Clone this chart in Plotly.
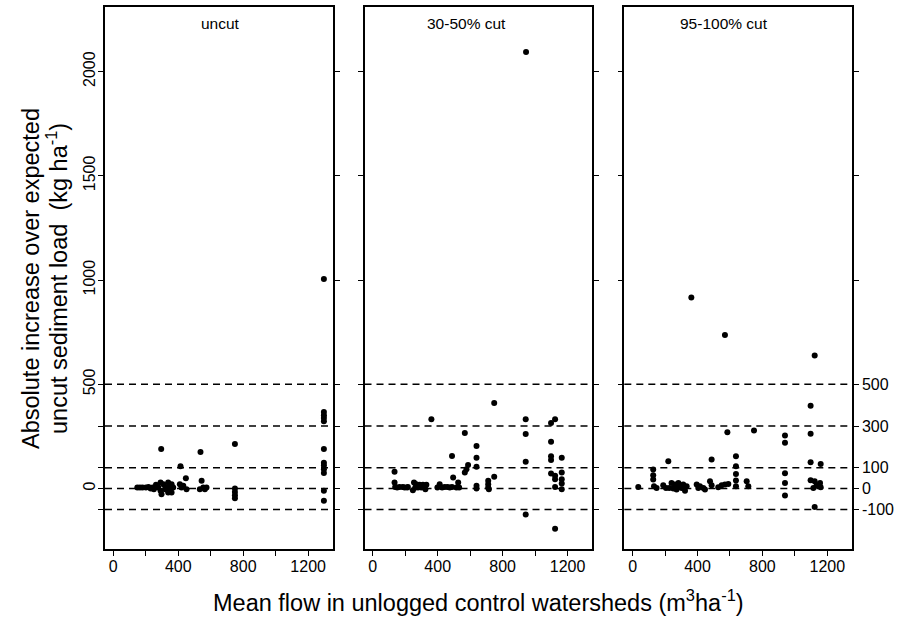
import plotly.graph_objects as go
from plotly.subplots import make_subplots

# --- dados (fluxo médio x aumento absoluto) ---
painel_titulos = ["uncut", "30-50% cut", "95-100% cut"]

uncut_x = [148, 164, 180, 201, 217, 230, 242, 250, 263, 277, 291, 291, 297, 308, 318, 324,
           338, 338, 349, 359, 359, 369, 295, 414, 410, 420, 431, 447, 451, 537, 533, 544,
           554, 564, 574, 749, 749, 749, 749, 749, 1297, 1297, 1297, 1297, 1297, 1297,
           1297, 1297, 1297, 1297, 1297, 1297]
uncut_y = [5, 5, 5, 5, 8, 0, 5, -3, 18, 5, 29, -11, -27, 21, -3, 5,
           29, -19, 5, 21, -19, 5, 190, 107, 21, 5, 13, 49, -3, 175, -3, 37,
           5, -3, 5, 214, 0, -16, -32, -46, 367, 352, 338, 323, 190, 124,
           110, 93, 75, -11, -59, 1005]

cut30_x = [134, 134, 138, 150, 165, 185, 196, 212, 216, 247, 254, 262, 268, 278, 289, 299,
           309, 324, 330, 361, 398, 412, 427, 443, 460, 474, 488, 495, 488, 515, 526, 532,
           567, 567, 577, 587, 639, 639, 639, 639, 639, 711, 711, 711, 715, 748, 748,
           942, 942, 942, 942, 944, 1098, 1123, 1098, 1098, 1098, 1164, 1098, 1123, 1123,
           1164, 1164, 1164, 1164, 1123, 1123]
cut30_y = [81, 29, 8, 5, 8, 8, 5, 5, 8, -8, 29, 5, 21, 5, 18, 5,
           18, -3, 18, 333, 5, 21, 5, 8, 8, 5, 8, 53, 156, 5, 29, 5,
           266, 77, 93, 113, 204, 148, 104, 13, 0, 37, 21, 5, -3, 56, 410,
           333, 262, 129, -124, 2094, 314, 333, 225, 155, 137, 148, 72, 61, 45,
           77, 45, 24, -3, 8, -193]

cut95_x = [35, 127, 127, 127, 132, 148, 189, 206, 220, 226, 240, 251, 261, 271, 282, 292,
           302, 312, 323, 333, 362, 395, 405, 415, 436, 446, 477, 487, 487, 528, 549, 569,
           590, 569, 584, 637, 637, 637, 637, 637, 703, 713, 748, 939, 939, 939, 939, 939,
           1097, 1097, 1097, 1097, 1122, 1122, 1122, 1134, 1155, 1159, 1114, 1159]
cut95_y = [8, 91, 64, 43, 11, 3, 16, 3, 131, 3, 27, 0, 19, -5, 27, 11,
           3, 19, -10, 11, 916, 19, 3, 11, 3, -5, 35, 139, 16, 6, 16, 19,
           22, 737, 270, 155, 107, 70, 38, 11, 35, 11, 279, 255, 220, 73, 27, -33,
           397, 263, 126, 40, 638, -88, 35, 16, 27, 6, 3, 118]

linhas_ref = [-100, 0, 100, 300, 500]
y_ticks = [-100, 0, 100, 300, 500, 1000, 1500, 2000]
x_ticks = [0, 200, 400, 600, 800, 1000, 1200]
x_labels = ["0", "", "400", "", "800", "", "1200"]

FONTE = "Liberation Sans, Arial, sans-serif"
dados = [(uncut_x, uncut_y), (cut30_x, cut30_y), (cut95_x, cut95_y)]

fig = make_subplots(rows=1, cols=3, shared_yaxes=False)

for i, (xs, ys) in enumerate(dados, start=1):
    fig.add_trace(go.Scatter(x=xs, y=ys, mode="markers",
                             marker=dict(color="black", size=6),
                             showlegend=False, hoverinfo="x+y"), row=1, col=i)
    # linhas tracejadas de referência
    for v in linhas_ref:
        fig.add_hline(y=v, line=dict(color="black", width=1.5, dash="7px,5px"), row=1, col=i)

# --- layout em pixels (área do gráfico: x 105..852, y 5..549) ---
dominios = [[0.0, 0.305], [0.3474, 0.6523], [0.6952, 1.0]]
centro_titulo_px = [220, 466, 724]   # posição horizontal dos rótulos dos painéis
for i in range(3):
    sx = "" if i == 0 else str(i + 1)
    fig.layout["xaxis" + sx].update(
        domain=dominios[i], range=[-51, 1352], tickvals=x_ticks, ticktext=x_labels,
        ticks="outside", ticklen=5, tickwidth=1.2, tickcolor="black", ticklabelstandoff=-3,
        showline=True, linecolor="black", linewidth=1.5, mirror=True,
        showgrid=False, zeroline=False, tickfont=dict(size=16, color="black", family=FONTE)
    )
    if i == 0:
        txt = ["", "0", "", "", "500", "1000", "1500", "2000"]
    elif i == 2:
        txt = ["-100", "0", "100", "300", "500", "", "", ""]
    else:
        txt = [""] * len(y_ticks)
    fig.layout["yaxis" + sx].update(
        range=[-290, 2310], tickvals=y_ticks, ticktext=txt,
        ticks="outside", ticklen=5, tickwidth=1.2, tickcolor="black",
        ticklabelstandoff=-3 if i == 0 else 0,
        showline=True, linecolor="black", linewidth=1.5, mirror="ticks",
        showgrid=False, zeroline=False,
        side="right" if i == 2 else "left",
        tickangle=-90 if i == 0 else 0,
        tickfont=dict(size=16, color="black", family=FONTE)
    )
    # título de cada painel
    fig.add_annotation(text=painel_titulos[i], xref="paper", yref="paper",
                       x=(centro_titulo_px[i] - 105) / 747, y=(549 - 22) / 544, showarrow=False,
                       xanchor="center", yanchor="middle",
                       font=dict(size=15.5, color="black", family=FONTE))

fig.add_annotation(text="Mean flow in unlogged control watersheds (m<sup>3</sup>ha<sup>-1</sup>)",
                   xref="paper", yref="paper", x=0.5, y=(549 - 601) / 544, showarrow=False,
                   xanchor="center", yanchor="middle",
                   font=dict(size=23.5, color="black", family=FONTE))
# título do eixo y em duas linhas (espaçamento controlado)
for texto, px_x in [("Absolute increase over expected", 31),
                    ("uncut sediment load  (kg ha<sup>-1</sup>)", 57)]:
    fig.add_annotation(text=texto, xref="paper", yref="paper",
                       x=(px_x - 105) / 747, y=(549 - 278) / 544,
                       showarrow=False, textangle=-90, xanchor="center", yanchor="middle",
                       font=dict(size=23.5, color="black", family=FONTE))

fig.update_layout(
    width=902, height=620,
    margin=dict(l=105, r=50, t=5, b=71),
    plot_bgcolor="white", paper_bgcolor="white",
    font=dict(family=FONTE, color="black"),
)

# tira a margem padrão do <body> para o gráfico começar no canto da página
fig.write_html("out.html", config={"displayModeBar": False},
               post_script="document.body.style.margin='0';")
